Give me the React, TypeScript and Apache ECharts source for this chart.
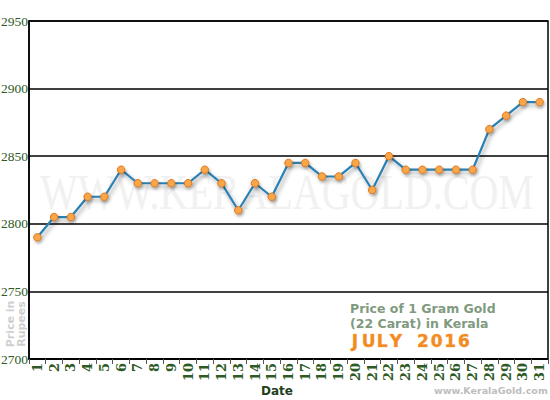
import React, { useEffect, useRef } from "react";
import * as echarts from "echarts";

const days = ["1","2","3","4","5","6","7","8","9","10","11","12","13","14","15","16","17","18","19","20","21","22","23","24","25","26","27","28","29","30","31"];
const prices = [2790,2805,2805,2820,2820,2840,2830,2830,2830,2830,2840,2830,2810,2830,2820,2845,2845,2835,2835,2845,2825,2850,2840,2840,2840,2840,2840,2870,2880,2890,2890];
const yMin = 2700;
const yMax = 2950;
const yStep = 50;
const monthLabel = "JULY 2016";

export default function App() {
  const ref = useRef<HTMLDivElement>(null);
  useEffect(() => {
    if (!ref.current) return;
    const chart = echarts.init(ref.current, undefined, { renderer: "svg" });
    const monthChars = monthLabel.split("").map((ch, i) => ({
      type: "text",
      x: 355 + i * 13.6,
      y: 332,
      style: {
        text: ch,
        font: "bold 17px 'DejaVu Sans', sans-serif",
        fill: "#f28c22",
        stroke: "#f9c089",
        lineWidth: 0.6,
        align: "center",
      },
    }));
    chart.setOption({
      animation: false,
      backgroundColor: "#fff",
      grid: {
        left: 29, right: 2, top: 21, bottom: 41,
        show: true, borderColor: "#000", borderWidth: 1.5,
        outerBoundsMode: "none",
        containLabel: false,
      },
      xAxis: {
        type: "category",
        data: days,
        boundaryGap: true,
        axisLine: { lineStyle: { color: "#000", width: 1.5 } },
        axisTick: { show: true, length: 5, lineStyle: { color: "#555" } },
        axisLabel: {
          rotate: 90,
          interval: 0,
          fontFamily: "DejaVu Serif, serif",
          fontWeight: "bold",
          fontSize: 13,
          color: "#2e5a26",
          margin: 4,
        },
      },
      yAxis: {
        type: "value",
        min: yMin,
        max: yMax,
        interval: yStep,
        axisLine: { show: true, lineStyle: { color: "#000", width: 1.5 } },
        axisTick: { show: false },
        splitLine: { lineStyle: { color: "#000", width: 1.5 } },
        axisLabel: {
          formatter: (v: number) => String(v),
          fontFamily: "Liberation Serif, serif",
          fontSize: 13.5,
          color: "#2e5a26",
          margin: 1,
        },
      },
      graphic: [
        {
          type: "text",
          z: 0,
          x: 40,
          y: 167,
          scaleX: 0.8,
          style: {
            text: "WWW.KERALAGOLD.COM",
            font: "50px 'Liberation Serif', serif",
            fill: "#f1f1f1",
          },
        },
        {
          type: "text",
          x: 16,
          y: 324,
          rotation: Math.PI / 2,
          style: {
            text: "Price in\nRupees",
            font: "bold 11px 'DejaVu Sans', sans-serif",
            fill: "#cfcfcf",
            align: "center",
            verticalAlign: "middle",
            lineHeight: 11,
          },
        },
        {
          type: "text",
          x: 277,
          y: 391,
          style: {
            text: "Date",
            font: "bold 12px 'DejaVu Sans', sans-serif",
            fill: "#1e3f1a",
            align: "center",
            verticalAlign: "middle",
          },
        },
        {
          type: "text",
          x: 350,
          y: 301,
          style: {
            text: "Price of 1 Gram Gold\n(22 Carat) in Kerala",
            font: "bold 12.5px 'DejaVu Sans', sans-serif",
            fill: "#7f9a7f",
            lineHeight: 15,
          },
        },
        ...monthChars,
        {
          type: "text",
          x: 434,
          y: 385,
          style: {
            text: "www.KeralaGold.com",
            font: "bold 9.5px 'DejaVu Sans', sans-serif",
            fill: "#bdbdbd",
          },
        },
      ],
      series: [
        {
          type: "line",
          data: prices,
          z: 5,
          symbol: "circle",
          symbolSize: 7.5,
          lineStyle: {
            color: "#2a80b2",
            width: 2.2,
            shadowColor: "rgba(0,0,0,0.35)",
            shadowBlur: 4,
            shadowOffsetX: 2,
            shadowOffsetY: 3,
          },
          itemStyle: {
            color: "#f7a649",
            borderColor: "#e0781e",
            borderWidth: 1,
            shadowColor: "rgba(0,0,0,0.3)",
            shadowBlur: 3,
            shadowOffsetX: 1,
            shadowOffsetY: 2,
          },
        },
      ],
    });
    return () => chart.dispose();
  }, []);
  return <div ref={ref} style={{ position: "absolute", left: 0, top: 0, width: 550, height: 400 }} />;
}
